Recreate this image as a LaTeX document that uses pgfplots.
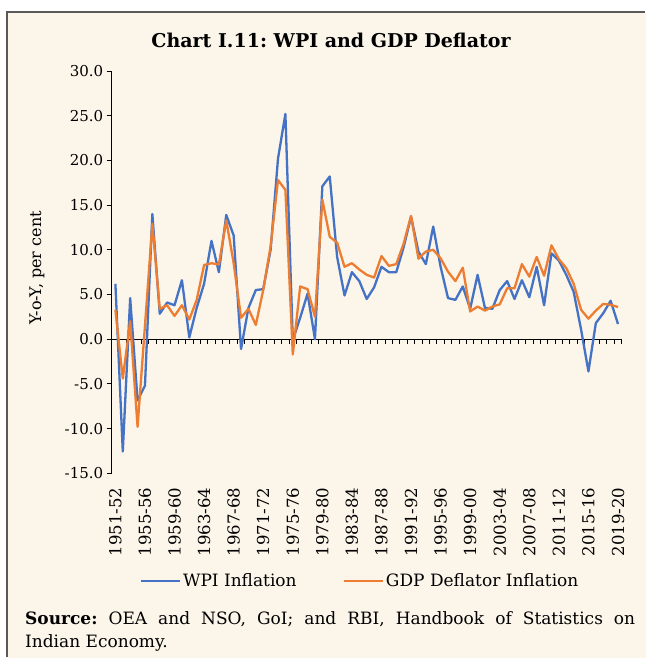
\documentclass[border=0pt]{standalone}
\usepackage{fontspec}
\setmainfont{DejaVu Serif}
\usepackage{pgfplots}
\usepackage{pgfplotstable}
\pgfplotsset{compat=1.18}
\definecolor{bg}{HTML}{FBF5EA}
\definecolor{wpi}{HTML}{4472C4}
\definecolor{gdp}{HTML}{ED7D31}

\pgfplotstableread{
i v
0 6.2
1 -12.55
2 4.6
3 -6.85
4 -5.2
5 14.0
6 2.85
7 4.1
8 3.8
9 6.6
10 0.2
11 3.5
12 6.2
13 11.0
14 7.5
15 13.9
16 11.6
17 -1.1
18 3.5
19 5.5
20 5.6
21 10.0
22 20.2
23 25.2
24 -0.1
25 2.4
26 5.1
27 0.0
28 17.1
29 18.2
30 9.2
31 4.9
32 7.5
33 6.5
34 4.5
35 5.8
36 8.1
37 7.5
38 7.5
39 10.3
40 13.7
41 9.8
42 8.4
43 12.6
44 8.1
45 4.6
46 4.4
47 5.9
48 3.4
49 7.2
50 3.5
51 3.4
52 5.5
53 6.5
54 4.5
55 6.6
56 4.7
57 8.1
58 3.8
59 9.6
60 8.8
61 7.2
62 5.3
63 1.1
64 -3.6
65 1.8
66 2.9
67 4.3
68 1.7
}\wpidata

\pgfplotstableread{
i v
0 3.3
1 -4.4
2 2.0
3 -9.8
4 1.5
5 12.9
6 3.4
7 3.8
8 2.6
9 3.8
10 2.2
11 4.4
12 8.3
13 8.5
14 8.35
15 13.3
16 8.5
17 2.4
18 3.4
19 1.6
20 5.5
21 10.4
22 17.8
23 16.7
24 -1.7
25 5.9
26 5.6
27 2.5
28 15.6
29 11.45
30 10.8
31 8.1
32 8.5
33 7.8
34 7.2
35 6.9
36 9.3
37 8.2
38 8.4
39 10.7
40 13.8
41 9.0
42 9.8
43 10.0
44 9.05
45 7.55
46 6.5
47 8.0
48 3.1
49 3.65
50 3.2
51 3.65
52 3.9
53 5.7
54 5.7
55 8.4
56 7.0
57 9.2
58 7.1
59 10.5
60 8.95
61 7.95
62 6.2
63 3.3
64 2.3
65 3.2
66 3.95
67 3.85
68 3.6
}\gdpdata

\begin{document}
\frenchspacing
\begin{tikzpicture}[x=1pt,y=1pt]
\fill[white] (0,0) rectangle (646,-658);
\fill[bg] (7,-12) rectangle (646,-658);
\draw[line width=1.3pt, black!65] (7,-657) -- (7,-12) -- (645,-12);
\node[font=\bfseries\fontsize{19}{22}\selectfont] at (331,-40) {Chart I.11: WPI and GDP Deflator};
\node[rotate=90, font=\fontsize{16}{19}\selectfont] at (37,-268) {Y-o-Y, per cent};
\node[anchor=north west, text width=610pt, align=justify, inner sep=0pt, font=\fontsize{17}{23}\selectfont] at (25,-611) {\frenchspacing\textbf{Source:} OEA and NSO, GoI; and RBI, Handbook of Statistics on\linebreak Indian Economy.};
\begin{axis}[
  at={(111.7pt,-473.3pt)}, anchor=south west,
  scale only axis, width=510pt, height=402.3pt,
  xmin=-0.5, xmax=68.5, ymin=-15, ymax=30,
  clip=false,
  separate axis lines,
  axis y line*=left, axis x line*=bottom,
  x axis line style={draw=none},
  y axis line style={black, line width=1pt},
  ytick={-15,-10,...,30},
  /pgf/number format/.cd, fixed, fixed zerofill, precision=1, assume math mode=true,
  /pgfplots/.cd,
  tick align=outside, major tick length=5pt,
  y tick style={black, line width=1pt},
  x tick style={draw=none},
  xtick={0,4,...,68},
  xticklabels={1951-52,1955-56,1959-60,1963-64,1967-68,1971-72,1975-76,1979-80,1983-84,1987-88,1991-92,1995-96,1999-00,2003-04,2007-08,2011-12,2015-16,2019-20},
  yticklabel style={font=\fontsize{15}{18}\selectfont},
  xticklabel style={yshift=-9pt, rotate=90, anchor=east, inner sep=0pt, font=\fontsize{16.5}{19}\selectfont},
  legend style={at={(0.487,-0.2677)}, anchor=center, draw=none, fill=none,
    legend columns=2, font=\fontsize{17}{20}\selectfont,
    /tikz/every even column/.append style={column sep=44pt}},
  legend image code/.code={\draw[#1] (0pt,0pt) -- (39pt,0pt);},
]
\draw[black, line width=1pt] (axis cs:-0.5,0) -- (axis cs:68.5,0);
\pgfplotsinvokeforeach{-0.5,0.5,...,68.5}{\draw[black, line width=1pt] (axis cs:#1,0) -- ++(0pt,-5pt);}
\addplot[wpi, line width=2.3pt, line join=round] table[x=i, y=v] {\wpidata};
\addlegendentry{WPI Inflation}
\addplot[gdp, line width=2.3pt, line join=round] table[x=i, y=v] {\gdpdata};
\addlegendentry{GDP Deflator Inflation}
\end{axis}
\end{tikzpicture}
\end{document}
